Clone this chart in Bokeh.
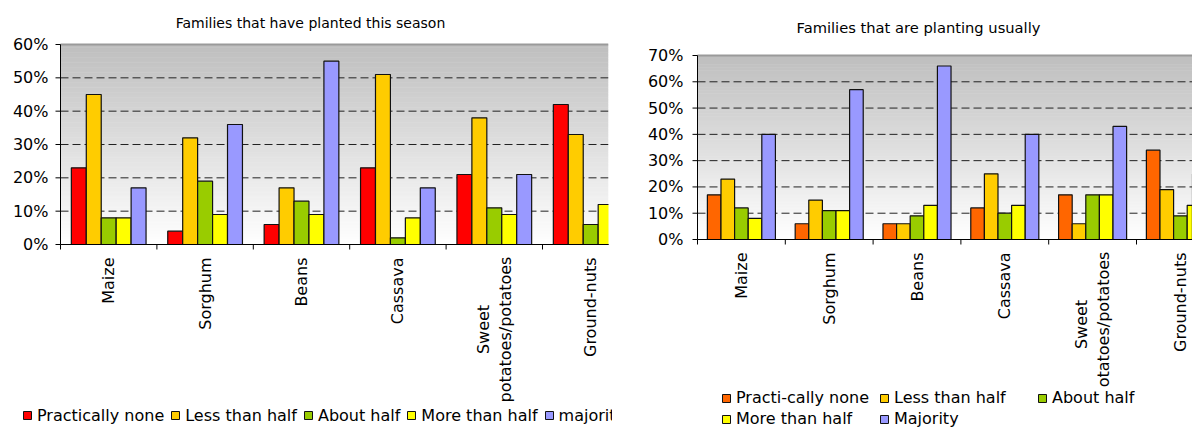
import math
from bokeh.plotting import figure
from bokeh.layouts import row
from bokeh.models import Range1d, Legend, LegendItem
from bokeh.core.properties import value
from bokeh.embed import file_html
from bokeh.resources import INLINE

FONT = "DejaVu Sans"

crops = ["Maize", "Sorghum", "Beans", "Cassava", "Sweet\npotatoes/potatoes", "Ground-nuts"]

# Share of families (%) per crop - planted this season
season_labels = ["Practically none", "Less than half", "About half", "More than half", "majority"]
season_none = [23, 4, 6, 23, 21, 42]
season_less = [45, 32, 17, 51, 38, 33]
season_about = [8, 19, 13, 2, 11, 6]
season_more = [8, 9, 9, 8, 9, 12]
season_major = [17, 36, 55, 17, 21, 7]
season_yticks = [0, 10, 20, 30, 40, 50, 60]

# Share of families (%) per crop - usually planting
usual_labels = ["Practi-cally none", "Less than half", "About half", "More than half", "Majority"]
usual_none = [17, 6, 6, 12, 17, 34]
usual_less = [23, 15, 6, 25, 6, 19]
usual_about = [12, 11, 9, 10, 17, 9]
usual_more = [8, 11, 13, 13, 17, 13]
usual_major = [40, 57, 66, 40, 43, 25]
usual_yticks = [0, 10, 20, 30, 40, 50, 60, 70]

season_colors = ["#FF0000", "#FFCC00", "#99CC00", "#FFFF00", "#9999FF"]
usual_colors = ["#FF6600", "#FFCC00", "#99CC00", "#FFFF00", "#9999FF"]

BAR_W = 0.155
HEIGHT = 428
OUTLINE = "#111111"


def chart(title, series, labels, colors, yticks, width, plot_left, group_px, zero_px,
          top_px, visible_px, ylab_gap, title_px, title_size, legend_loc, legend_cols,
          legend_spacing, legend_label_width):
    """Grouped bar chart; every guide is drawn inside the frame so nothing gets clipped."""
    ymax = yticks[-1]
    ppu = (zero_px - top_px) / ymax          # pixels per percentage point

    def dx(px):
        return px / group_px

    def dy(px):
        return px / ppu

    x_start, x_end = -dx(plot_left), dx(width - plot_left)
    x_vis = dx(visible_px - plot_left)
    y_start, y_end = -dy(HEIGHT - zero_px), ymax + dy(top_px)

    p = figure(width=width, height=HEIGHT, title=None, output_backend="svg",
               toolbar_location=None, x_range=Range1d(x_start, x_end),
               y_range=Range1d(y_start, y_end), x_axis_location=None, y_axis_location=None,
               min_border=0)
    p.min_border_left = p.min_border_right = p.min_border_top = p.min_border_bottom = 0
    p.outline_line_color = None
    p.background_fill_color = "white"
    p.border_fill_color = "white"
    p.xgrid.visible = False
    p.ygrid.visible = False

    # grey-to-white vertical gradient of the plot area
    n = 120
    bottoms = [ymax * i / n for i in range(n)]
    tops = [ymax * (i + 1) / n + ymax * 0.003 for i in range(n)]
    shades = []
    for i in range(n):
        v = int(round(255 - (255 - 190) * (i + 0.5) / n))
        shades.append("#%02x%02x%02x" % (v, v, v))
    p.quad(left=0, right=x_vis, bottom=bottoms, top=tops, fill_color=shades,
           line_color=None, level="image")

    # dashed value gridlines and the grey top edge
    inner = yticks[1:-1]
    p.segment(x0=[0] * len(inner), x1=[x_vis] * len(inner), y0=inner, y1=inner,
              line_color="#222222", line_dash="8 4", line_width=1, level="underlay")
    p.segment(x0=[0], x1=[x_vis], y0=[ymax], y1=[ymax], line_color="#9a9a9a",
              line_width=2, level="underlay")

    # bars, one series per answer category; a hidden square marker per series
    # supplies the legend key
    items = []
    for k, (vals, lab, col) in enumerate(zip(series, labels, colors)):
        xs = [i + 0.5 + (k - 2) * BAR_W for i in range(len(vals))]
        p.vbar(x=xs, top=vals, bottom=0, width=BAR_W, fill_color=col,
               line_color=OUTLINE, line_width=1.2)
        key = p.scatter(x=xs, y=vals, marker="square", size=8, fill_color=col,
                        line_color=OUTLINE, line_width=1, visible=False)
        items.append(LegendItem(label=lab, renderers=[key]))

    # the plot area stops at the visible edge
    if x_vis < x_end:
        p.quad(left=[x_vis], right=[x_end], bottom=[-dy(1.5)], top=[y_end],
               fill_color="white", line_color=None)

    # value axis
    p.segment(x0=[0], x1=[0], y0=[0], y1=[ymax], line_color="black", line_width=1)
    p.segment(x0=[-dx(5)] * len(yticks), x1=[0] * len(yticks), y0=yticks, y1=yticks,
              line_color="black", line_width=1)
    p.text(x=[-dx(ylab_gap)] * len(yticks), y=yticks, text=["%d%%" % t for t in yticks],
           text_align="right", text_baseline="middle", text_font=value(FONT),
           text_font_size="16px", text_color="black")

    # category axis: single-line names hang from the axis, wrapped names are centred
    bounds = [i for i in range(len(crops) + 1) if i <= x_vis]
    p.segment(x0=[0], x1=[x_vis], y0=[0], y1=[0], line_color="black", line_width=1)
    p.segment(x0=bounds, x1=bounds, y0=[0] * len(bounds), y1=[-dy(5)] * len(bounds),
              line_color="black", line_width=1)
    single = [i for i, c in enumerate(crops) if "\n" not in c]
    wrapped = [i for i, c in enumerate(crops) if "\n" in c]
    label_style = dict(angle=math.pi / 2, text_baseline="middle", text_font=value(FONT),
                       text_font_size="16px", text_color="black", text_line_height=1.15)
    p.text(x=[i + 0.5 for i in single], y=[-dy(13)] * len(single),
           text=[crops[i] for i in single], text_align="right", **label_style)
    p.text(x=[i + 0.5 for i in wrapped], y=[-dy(85)] * len(wrapped),
           text=[crops[i] for i in wrapped], text_align="center", **label_style)

    # chart title
    tx, ty = title_px
    p.text(x=[dx(tx - plot_left)], y=[y_end - dy(ty)], text=[title], text_align="center",
           text_baseline="middle", text_font=value(FONT), text_font_size=title_size,
           text_color="black")

    legend = Legend(items=items, location=legend_loc, orientation="horizontal",
                    spacing=legend_spacing, label_width=legend_label_width, label_height=20,
                    glyph_width=20, glyph_height=20, label_standoff=0,
                    padding=2, margin=0, border_line_color=None,
                    background_fill_color="white", background_fill_alpha=1.0,
                    inactive_fill_alpha=0.0,
                    label_text_font=FONT, label_text_font_size="16px",
                    label_text_color="black")
    if legend_cols:
        legend.ncols = legend_cols
    p.add_layout(legend)
    return p


left = chart("Families that have planted this season",
             [season_none, season_less, season_about, season_more, season_major],
             season_labels, season_colors, season_yticks,
             width=612, plot_left=60, group_px=96.4, zero_px=244, top_px=44,
             visible_px=608, ylab_gap=12, title_px=(310, 22), title_size="14px",
             legend_loc=(17, 3), legend_cols=None, legend_spacing=1, legend_label_width=20)

right = chart("Families that are planting usually",
              [usual_none, usual_less, usual_about, usual_more, usual_major],
              usual_labels, usual_colors, usual_yticks,
              width=580, plot_left=85, group_px=87.8, zero_px=239, top_px=55,
              visible_px=580, ylab_gap=14, title_px=(306, 27), title_size="14.7px",
              legend_loc=(104, -0.5), legend_cols=3, legend_spacing=1, legend_label_width=137)

layout = row(left, right)
open("out.html", "w").write(file_html(layout, INLINE))
